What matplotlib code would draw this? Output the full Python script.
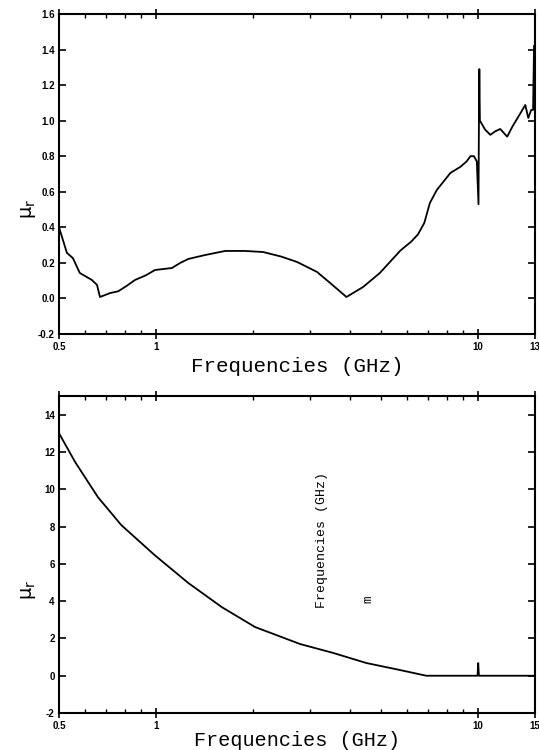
import numpy as np
import matplotlib.pyplot as plt
from matplotlib.ticker import FixedLocator, NullFormatter

# --- dados ---
# painel de cima: mu_r vs frequencia
f_cima = [0.5, 0.529, 0.552, 0.58, 0.632, 0.656, 0.670, 0.72, 0.763, 0.81, 0.861, 0.93, 0.993,
          1.05, 1.12, 1.19, 1.26, 1.42, 1.64, 1.89, 2.15, 2.45, 2.74, 3.16, 3.47, 3.90,
          4.39, 4.95, 5.74, 6.2, 6.5, 6.8, 7.08, 7.44, 8.2, 8.8, 9.2, 9.46, 9.7, 9.9,
          10.02, 10.05, 10.08, 10.12, 10.5, 10.9, 11.3, 11.7, 12.3, 12.8, 13.2, 14.0,
          14.3, 14.6, 14.8, 14.9]
mu_cima = [0.40, 0.256, 0.227, 0.143, 0.104, 0.076, 0.008, 0.03, 0.04, 0.07, 0.104, 0.13, 0.16,
           0.165, 0.171, 0.2, 0.222, 0.244, 0.267, 0.267, 0.261, 0.235, 0.205, 0.149, 0.087, 0.008,
           0.064, 0.143, 0.27, 0.32, 0.36, 0.424, 0.537, 0.61, 0.706, 0.74, 0.77, 0.80, 0.80, 0.77,
           0.53, 1.0, 1.29, 1.0, 0.95, 0.92, 0.94, 0.953, 0.91, 0.97, 1.01, 1.088,
           1.015, 1.06, 1.06, 1.42]

# painel de baixo
f_baixo = [0.5, 0.561, 0.66, 0.78, 0.99, 1.26, 1.60, 2.03, 2.8, 3.55,
           4.5, 5.7, 6.9, 9.95, 10.0, 10.05, 15.0]
mu_baixo = [13.0, 11.46, 9.58, 8.08, 6.47, 4.97, 3.68, 2.61, 1.7, 1.22,
            0.68, 0.31, 0.0, 0.0, 0.68, 0.0, 0.0]

xticks = [0.5, 1, 10, 15]
xlabels_cima = ['0.5', '1', '10', '13']
xlabels_baixo = ['0.5', '1', '10', '15']
yticks_cima = [-0.2, 0.0, 0.2, 0.4, 0.6, 0.8, 1.0, 1.2, 1.4, 1.6]
yticks_baixo = [-2, 0, 2, 4, 6, 8, 10, 12, 14]

fig = plt.figure(figsize=(5.39, 7.5), dpi=100)
ax1 = fig.add_axes([0.1095, 0.5547, 0.883, 0.4267])
ax2 = fig.add_axes([0.1095, 0.0493, 0.883, 0.4227])

minor = [0.6, 0.7, 0.8, 0.9, 2, 3, 4, 5, 6, 7, 8, 9]

def formatar(ax, ylim, yticks, ylabels, xlabels, fs_xlabel, xlabel_pad):
    ax.set_xscale('log')
    ax.set_xlim(0.5, 15)
    ax.set_ylim(*ylim)
    ax.xaxis.set_major_locator(FixedLocator(xticks))
    ax.set_xticklabels(xlabels, fontsize=7, fontweight='bold', family='Liberation Sans')
    ax.xaxis.set_minor_locator(FixedLocator(minor))
    ax.xaxis.set_minor_formatter(NullFormatter())
    ax.set_yticks(yticks)
    ax.set_yticklabels(ylabels, fontsize=7, fontweight='bold', family='Liberation Sans')
    ax.tick_params(axis='x', which='major', direction='inout', length=7, width=1.2,
                   top=True, pad=2)
    ax.tick_params(axis='x', which='minor', direction='in', length=3, width=1, top=True)
    ax.tick_params(axis='y', which='major', direction='in', length=5, width=1.2,
                   right=True, pad=3)
    for s in ax.spines.values():
        s.set_linewidth(1.5)
    ax.set_xlabel('Frequencies (GHz)', family='Liberation Mono', fontsize=fs_xlabel,
                  labelpad=xlabel_pad)
    ax.set_ylabel(r'$\mathrm{\mu_r}$', fontsize=14, family='serif')
    ax.yaxis.set_label_coords(-0.045, 0.39)

ax1.plot(f_cima, mu_cima, color='black', linewidth=1.3)
formatar(ax1, (-0.2, 1.6), yticks_cima,
         ['-0.2', '0.0', '0.2', '0.4', '0.6', '0.8', '1.0', '1.2', '1.4', '1.6'],
         xlabels_cima, 15, 4)

ax2.plot(f_baixo, mu_baixo, color='black', linewidth=1.3)
formatar(ax2, (-2, 15), yticks_baixo, [str(v) for v in yticks_baixo],
         xlabels_baixo, 14.5, 0)

# textos soltos no painel de baixo
ax2.text(0.553, 0.546, 'Frequencies (GHz)', transform=ax2.transAxes, rotation=90,
         family='Liberation Mono', fontsize=9.5, ha='center', va='center')
ax2.text(0.651, 0.36, 'm', transform=ax2.transAxes, rotation=90,
         family='Liberation Mono', fontsize=9, ha='center', va='center')

fig.savefig('out.png', dpi=100)
